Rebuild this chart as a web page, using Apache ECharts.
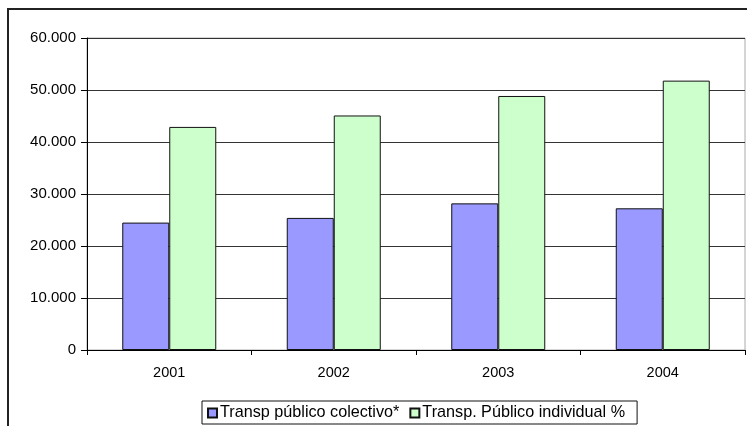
<!DOCTYPE html>
<html><head><meta charset="utf-8">
<script src="https://cdn.jsdelivr.net/npm/echarts@6/dist/echarts.min.js"></script>
<style>html,body{margin:0;padding:0;background:#fff}#c{width:747px;height:426px}</style>
</head><body><div id="c"></div>
<script>
const categories = ['2001','2002','2003','2004'];
const colectivo = [24500, 25400, 28200, 27250];
const individual = [42900, 45100, 48850, 51800];
const seriesNames = ['Transp público colectivo*', 'Transp. Público individual %'];
const yTicks = [0, 10000, 20000, 30000, 40000, 50000, 60000];

const chart = echarts.init(document.getElementById('c'), null, {renderer:'canvas'});
const font = 'Liberation Sans, Arial, sans-serif';
chart.setOption({
  animation:false,
  backgroundColor:'#fff',
  textStyle:{fontFamily:font},
  graphic:[{type:'rect', shape:{x:8,y:9,width:800,height:500}, style:{fill:'none', stroke:'#222', lineWidth:2}, z:-1}],
  grid:{left:87, top:38, right:2, bottom:76, show:true, borderColor:'#aaa', borderWidth:1, backgroundColor:'transparent'},
  legend:{
    left:202, top:401,
    padding:[4,12,3,5],
    borderColor:'#111', borderWidth:1,
    itemWidth:9, itemHeight:9, itemGap:10,
    icon:'rect',
    textStyle:{fontSize:16.2, color:'#000', fontFamily:font, padding:[0,0,0,-2]},
    data:seriesNames
  },
  xAxis:{
    type:'category', data:categories,
    axisLine:{lineStyle:{color:'#000', width:1}},
    axisTick:{show:true, length:5, alignWithLabel:false, lineStyle:{color:'#000'}},
    axisLabel:{fontSize:14.5, color:'#000', margin:15, fontFamily:font}
  },
  yAxis:{
    type:'value', min:yTicks[0], max:yTicks[yTicks.length-1], interval:10000,
    axisLine:{show:true, lineStyle:{color:'#000', width:1}},
    axisTick:{show:true, length:6, lineStyle:{color:'#000'}},
    splitLine:{lineStyle:{color:'#333', width:1}},
    axisLabel:{fontSize:15, color:'#000', margin:11, fontFamily:font,
      formatter:v => v === 0 ? '0' : (v/1000).toFixed(0) + '.000'}
  },
  series:[
    {name:seriesNames[0], type:'bar', data:colectivo, barWidth:47, barGap:'0%',
     itemStyle:{color:'#9999FF', borderColor:'#111', borderWidth:1}},
    {name:seriesNames[1], type:'bar', data:individual, barWidth:47, barGap:'0%',
     itemStyle:{color:'#CCFFCC', borderColor:'#111', borderWidth:1}}
  ]
});
</script></body></html>
